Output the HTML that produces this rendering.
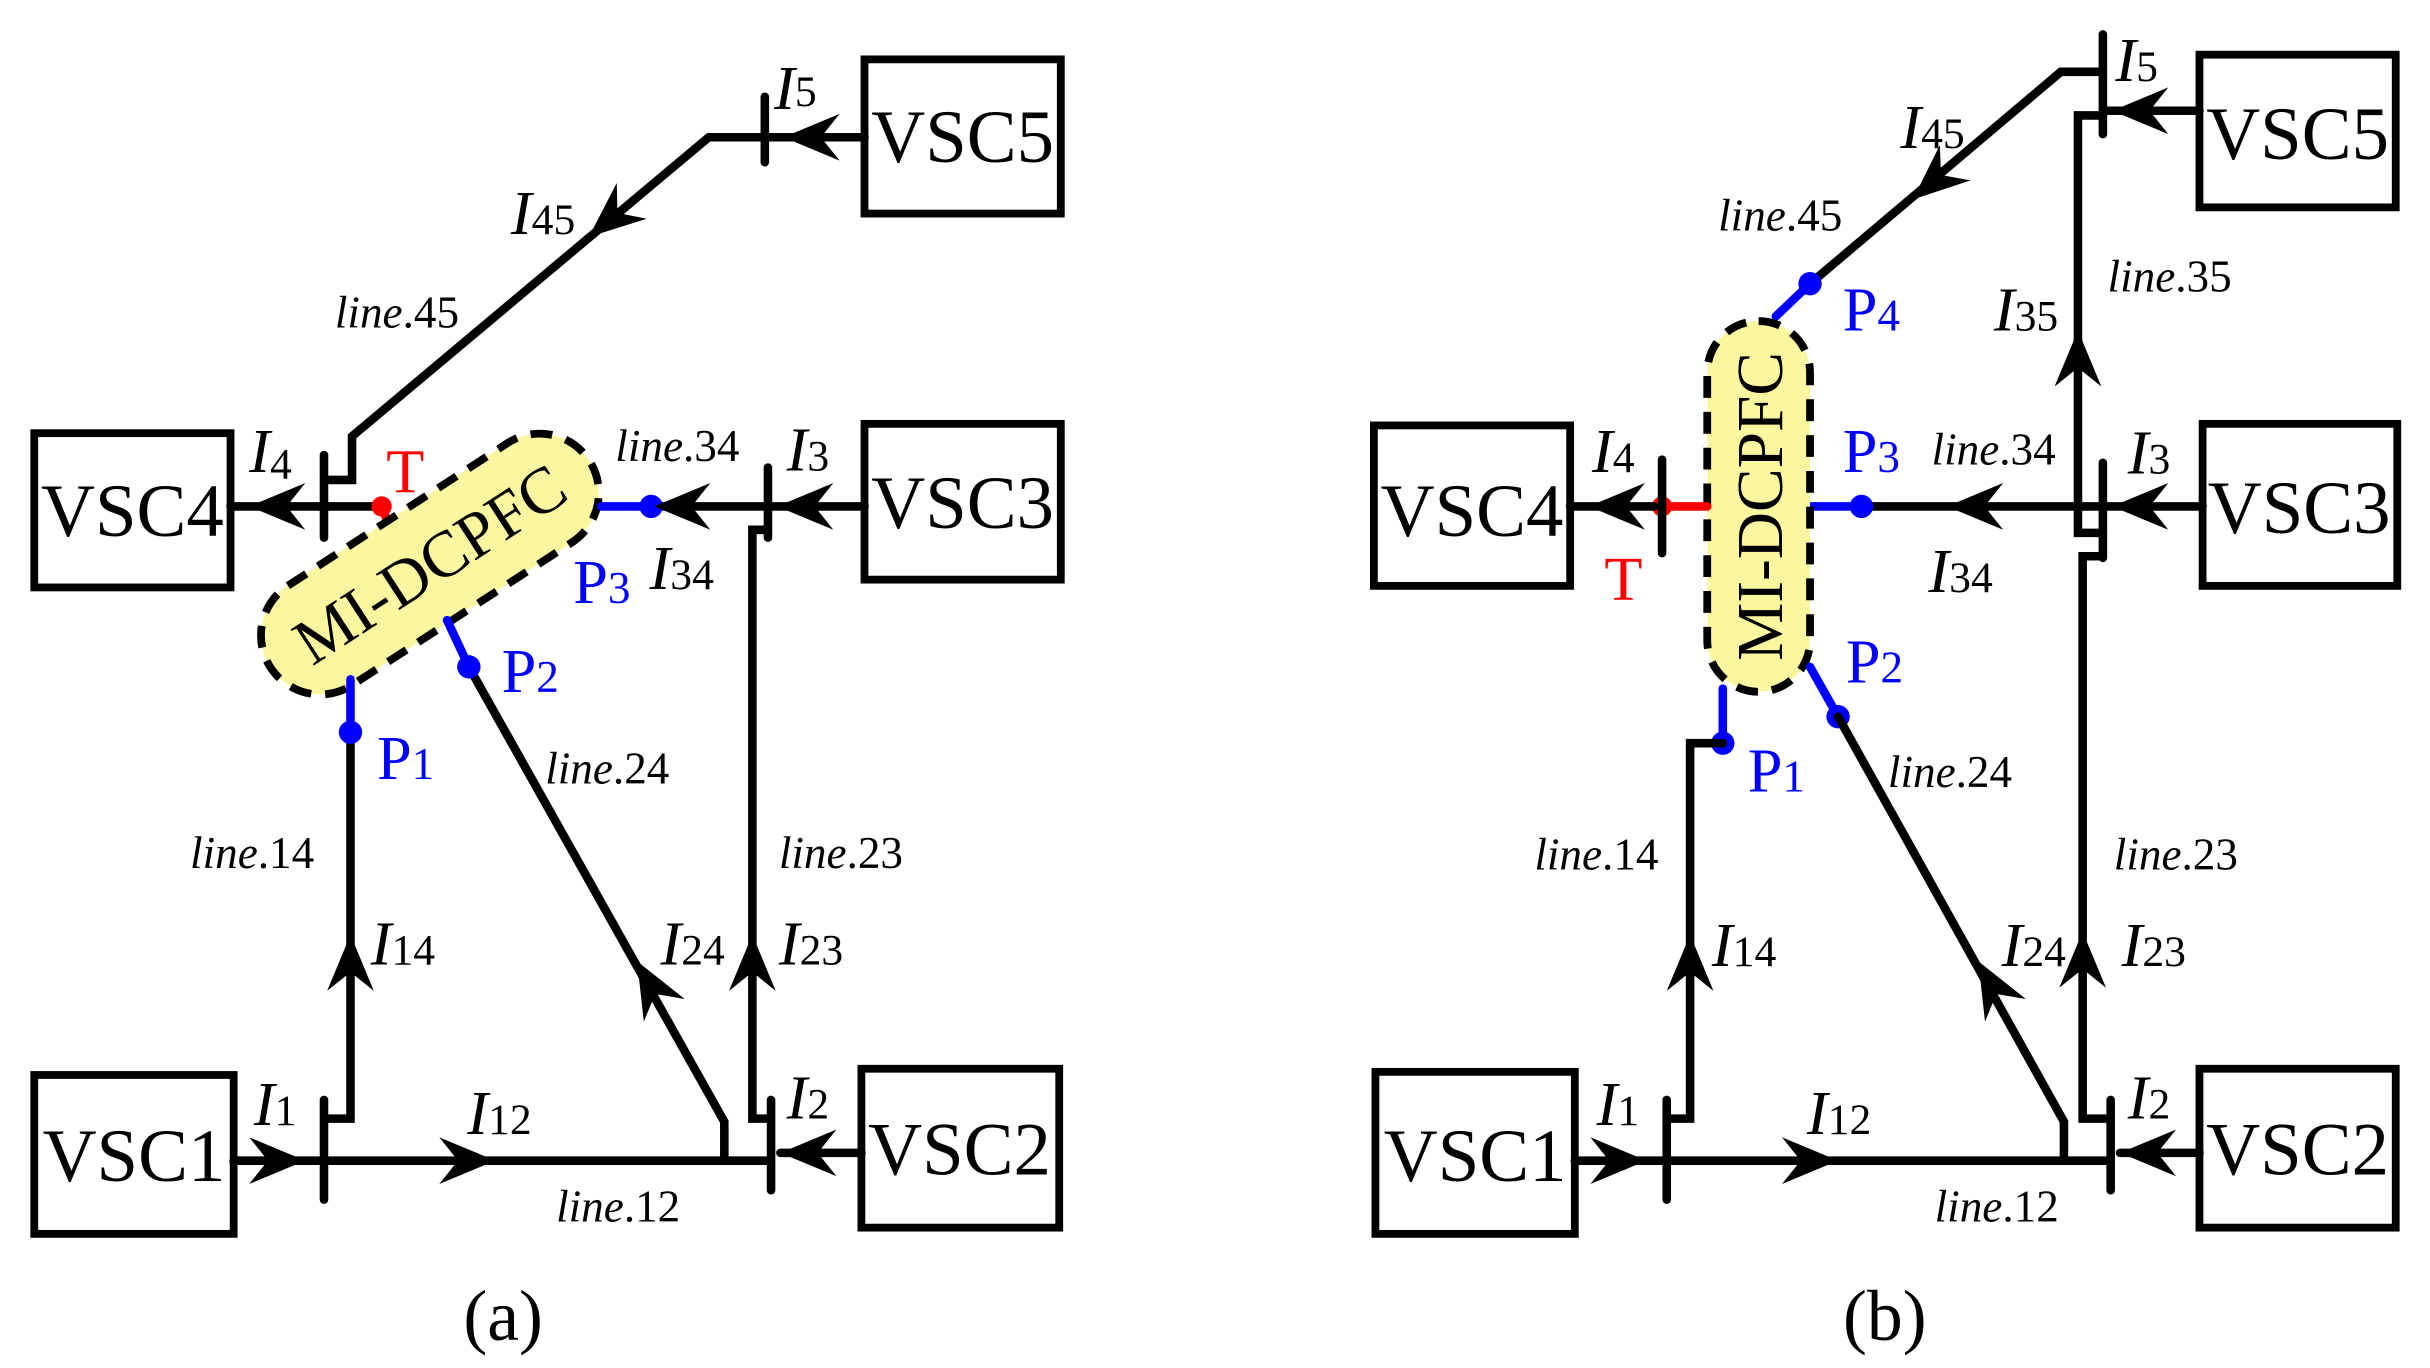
<!DOCTYPE html>
<html><head><meta charset="utf-8"><style>
html,body{margin:0;padding:0;background:#fff}
svg{display:block;font-family:"Liberation Serif","Times New Roman",Times,serif}
svg text,svg tspan{font-family:"Liberation Serif","Times New Roman",Times,serif}
.k{stroke:#000;stroke-width:5.5;fill:none;stroke-linecap:round;stroke-linejoin:miter}
.b{stroke:#0000ff;stroke-width:5.5;fill:none;stroke-linecap:round}
.r{stroke:#ff0000;stroke-width:5.5;fill:none;stroke-linecap:round}
.box{stroke:#000;stroke-width:5;fill:#fff}
.v{font-size:48px}
.l{font-size:29px;font-style:italic}
.I{font-size:40px;font-style:italic}
.s{font-size:28px;font-style:normal}
.P{font-size:40px;fill:#0000ff}
</style></head><body>
<svg width="2430" height="1368" viewBox="0 0 1560 878" xmlns="http://www.w3.org/2000/svg" font-family="Liberation Serif, serif">
<defs><path id="ah" d="M0,0 L-36,-15 L-24,0 L-36,15 Z" fill="#000"/></defs>

<!-- ===== Panel (a) ===== -->
<rect class="box" x="22" y="278" width="126" height="99"/>
<rect class="box" x="555" y="38" width="126" height="99"/>
<rect class="box" x="555" y="272" width="126" height="100"/>
<rect class="box" x="22" y="690" width="128" height="102"/>
<rect class="box" x="553" y="686" width="127" height="102"/>
<text class="v" x="85" y="344" text-anchor="middle">VSC4</text>
<text class="v" x="618" y="104" text-anchor="middle">VSC5</text>
<text class="v" x="618" y="339" text-anchor="middle">VSC3</text>
<text class="v" x="86" y="758" text-anchor="middle">VSC1</text>
<text class="v" x="616" y="754" text-anchor="middle">VSC2</text>

<polyline class="k" points="555,88 455,88 226,280 226,308 208,308"/>
<line class="k" x1="491" y1="62" x2="491" y2="104"/>
<use href="#ah" transform="translate(503,88) rotate(180)"/>
<use href="#ah" transform="translate(378,152) rotate(140)"/>
<line class="k" x1="148" y1="325" x2="240" y2="325"/>
<line class="k" x1="208" y1="292" x2="208" y2="345"/>
<use href="#ah" transform="translate(160,325) rotate(180)"/>
<line class="r" x1="245" y1="325" x2="250" y2="338"/>
<circle cx="245" cy="325" r="6.5" fill="#ff0000"/>
<g transform="translate(276,362) rotate(-33)">
<rect x="-122" y="-38" width="244" height="76" rx="38" fill="#fbf7a0" stroke="#000" stroke-width="5" stroke-dasharray="14,9"/>
<text x="0" y="14" text-anchor="middle" font-size="42">MI-DCPFC</text>
</g>
<line class="b" x1="386" y1="325" x2="418" y2="325"/>
<line class="k" x1="418" y1="325" x2="555" y2="325"/>
<circle cx="418" cy="325" r="7.5" fill="#0000ff"/>
<line class="k" x1="493" y1="300" x2="493" y2="345"/>
<use href="#ah" transform="translate(420,325) rotate(180)"/>
<use href="#ah" transform="translate(499,325) rotate(180)"/>
<polyline class="k" points="493,340 483,340 483,718 493,718"/>
<use href="#ah" transform="translate(483,600) rotate(-90)"/>
<line class="b" x1="225" y1="436" x2="225" y2="470"/>
<polyline class="k" points="225,470 225,718 210,718"/>
<circle cx="225" cy="470" r="7.5" fill="#0000ff"/>
<use href="#ah" transform="translate(225,600) rotate(-90)"/>
<line class="b" x1="287" y1="398" x2="301" y2="428"/>
<polyline class="k" points="301,428 465,720 465,745"/>
<circle cx="301" cy="428" r="7.5" fill="#0000ff"/>
<use href="#ah" transform="translate(409,617) rotate(-119)"/>
<line class="k" x1="150" y1="745" x2="495" y2="745"/>
<line class="k" x1="208" y1="706" x2="208" y2="770"/>
<line class="k" x1="495" y1="706" x2="495" y2="764"/>
<use href="#ah" transform="translate(196,745)"/>
<use href="#ah" transform="translate(318,745)"/>
<use href="#ah" transform="translate(501,740) rotate(180)"/>
<line class="k" x1="501" y1="740" x2="553" y2="740"/>

<text class="I" x="160" y="303">I<tspan class="s" dy="4">4</tspan></text>
<text x="248" y="316" font-size="40" fill="#ff0000">T</text>
<text class="I" x="497" y="70">I<tspan class="s" dy="-2">5</tspan></text>
<text class="I" x="328" y="150">I<tspan class="s">45</tspan></text>
<text class="l" x="215" y="210">line<tspan font-style="normal">.45</tspan></text>
<text class="l" x="395" y="296">line<tspan font-style="normal">.34</tspan></text>
<text class="I" x="505" y="302">I<tspan class="s">3</tspan></text>
<text class="P" x="368" y="387">P<tspan font-size="29">3</tspan></text>
<text class="I" x="417" y="378">I<tspan class="s">34</tspan></text>
<text class="P" x="322" y="444">P<tspan font-size="29">2</tspan></text>
<text class="P" x="242" y="500">P<tspan font-size="29">1</tspan></text>
<text class="l" x="350" y="503">line<tspan font-style="normal">.24</tspan></text>
<text class="l" x="122" y="557">line<tspan font-style="normal">.14</tspan></text>
<text class="l" x="500" y="557">line<tspan font-style="normal">.23</tspan></text>
<text class="I" x="238" y="619">I<tspan class="s">14</tspan></text>
<text class="I" x="424" y="619">I<tspan class="s">24</tspan></text>
<text class="I" x="500" y="619">I<tspan class="s">23</tspan></text>
<text class="I" x="163" y="722">I<tspan class="s">1</tspan></text>
<text class="I" x="300" y="728">I<tspan class="s">12</tspan></text>
<text class="I" x="505" y="718">I<tspan class="s">2</tspan></text>
<text class="l" x="357" y="784">line<tspan font-style="normal">.12</tspan></text>
<text x="323" y="860" font-size="46" text-anchor="middle">(a)</text>

<!-- ===== Panel (b) ===== -->
<rect class="box" x="882" y="273" width="126" height="103"/>
<rect class="box" x="1412" y="35" width="126" height="98"/>
<rect class="box" x="1414" y="272" width="125" height="104"/>
<rect class="box" x="883" y="688" width="128" height="104"/>
<rect class="box" x="1412" y="686" width="126" height="102"/>
<text class="v" x="945" y="344" text-anchor="middle">VSC4</text>
<text class="v" x="1475" y="102" text-anchor="middle">VSC5</text>
<text class="v" x="1476" y="342" text-anchor="middle">VSC3</text>
<text class="v" x="947" y="758" text-anchor="middle">VSC1</text>
<text class="v" x="1475" y="754" text-anchor="middle">VSC2</text>

<polyline class="k" points="1350,46 1323,46 1162,182"/>
<line class="b" x1="1162" y1="182" x2="1140" y2="203"/>
<circle cx="1162" cy="182" r="7.5" fill="#0000ff"/>
<line class="k" x1="1350" y1="22" x2="1350" y2="86"/>
<line class="k" x1="1350" y1="71" x2="1412" y2="71"/>
<use href="#ah" transform="translate(1356,71) rotate(180)"/>
<use href="#ah" transform="translate(1228,128) rotate(139)"/>
<polyline class="k" points="1350,74 1334,74 1334,342 1350,342"/>
<use href="#ah" transform="translate(1334,212) rotate(-90)"/>
<line class="k" x1="1350" y1="297" x2="1350" y2="358"/>
<polyline class="k" points="1350,357 1337,357 1337,718 1352,718"/>
<use href="#ah" transform="translate(1337,598) rotate(-90)"/>
<line class="k" x1="1195" y1="325" x2="1414" y2="325"/>
<use href="#ah" transform="translate(1356,325) rotate(180)"/>
<use href="#ah" transform="translate(1250,325) rotate(180)"/>
<line class="b" x1="1162" y1="325" x2="1195" y2="325"/>
<circle cx="1195" cy="325" r="7.5" fill="#0000ff"/>
<rect x="1096" y="206" width="66" height="238" rx="33" fill="#fbf7a0" stroke="#000" stroke-width="5" stroke-dasharray="14,9"/>
<text transform="translate(1144,325) rotate(-90)" text-anchor="middle" font-size="42">MI-DCPFC</text>
<line class="r" x1="1067" y1="325" x2="1096" y2="325"/>
<circle cx="1067" cy="325" r="6.5" fill="#ff0000"/>
<line class="k" x1="1008" y1="325" x2="1062" y2="325"/>
<line class="k" x1="1067" y1="295" x2="1067" y2="355"/>
<use href="#ah" transform="translate(1020,325) rotate(180)"/>
<line class="b" x1="1106" y1="442" x2="1106" y2="477"/>
<circle cx="1106" cy="477" r="7.5" fill="#0000ff"/>
<polyline class="k" points="1106,477 1085,477 1085,718 1070,718"/>
<use href="#ah" transform="translate(1085,600) rotate(-90)"/>
<line class="b" x1="1162" y1="428" x2="1180" y2="460"/>
<circle cx="1180" cy="460" r="7.5" fill="#0000ff"/>
<polyline class="k" points="1180,460 1325,720 1325,745"/>
<use href="#ah" transform="translate(1270,617) rotate(-119)"/>
<line class="k" x1="1011" y1="745" x2="1355" y2="745"/>
<line class="k" x1="1070" y1="706" x2="1070" y2="770"/>
<line class="k" x1="1355" y1="706" x2="1355" y2="764"/>
<use href="#ah" transform="translate(1057,745)"/>
<use href="#ah" transform="translate(1180,745)"/>
<line class="k" x1="1361" y1="740" x2="1412" y2="740"/>
<use href="#ah" transform="translate(1361,740) rotate(180)"/>

<text class="I" x="1022" y="303">I<tspan class="s">4</tspan></text>
<text x="1030" y="385" font-size="40" fill="#ff0000">T</text>
<text class="I" x="1358" y="52">I<tspan class="s">5</tspan></text>
<text class="I" x="1220" y="95">I<tspan class="s">45</tspan></text>
<text class="l" x="1103" y="148">line<tspan font-style="normal">.45</tspan></text>
<text class="P" x="1183" y="212">P<tspan font-size="29">4</tspan></text>
<text class="I" x="1280" y="212">I<tspan class="s">35</tspan></text>
<text class="l" x="1353" y="187">line<tspan font-style="normal">.35</tspan></text>
<text class="P" x="1183" y="303">P<tspan font-size="29">3</tspan></text>
<text class="l" x="1240" y="298">line<tspan font-style="normal">.34</tspan></text>
<text class="I" x="1366" y="304">I<tspan class="s">3</tspan></text>
<text class="I" x="1238" y="380">I<tspan class="s">34</tspan></text>
<text class="P" x="1185" y="438">P<tspan font-size="29">2</tspan></text>
<text class="P" x="1122" y="508">P<tspan font-size="29">1</tspan></text>
<text class="l" x="1212" y="505">line<tspan font-style="normal">.24</tspan></text>
<text class="l" x="985" y="558">line<tspan font-style="normal">.14</tspan></text>
<text class="l" x="1357" y="558">line<tspan font-style="normal">.23</tspan></text>
<text class="I" x="1099" y="620">I<tspan class="s">14</tspan></text>
<text class="I" x="1285" y="620">I<tspan class="s">24</tspan></text>
<text class="I" x="1362" y="620">I<tspan class="s">23</tspan></text>
<text class="I" x="1025" y="722">I<tspan class="s">1</tspan></text>
<text class="I" x="1160" y="728">I<tspan class="s">12</tspan></text>
<text class="I" x="1366" y="718">I<tspan class="s">2</tspan></text>
<text class="l" x="1242" y="784">line<tspan font-style="normal">.12</tspan></text>
<text x="1210" y="860" font-size="46" text-anchor="middle">(b)</text>
</svg>
</body></html>
